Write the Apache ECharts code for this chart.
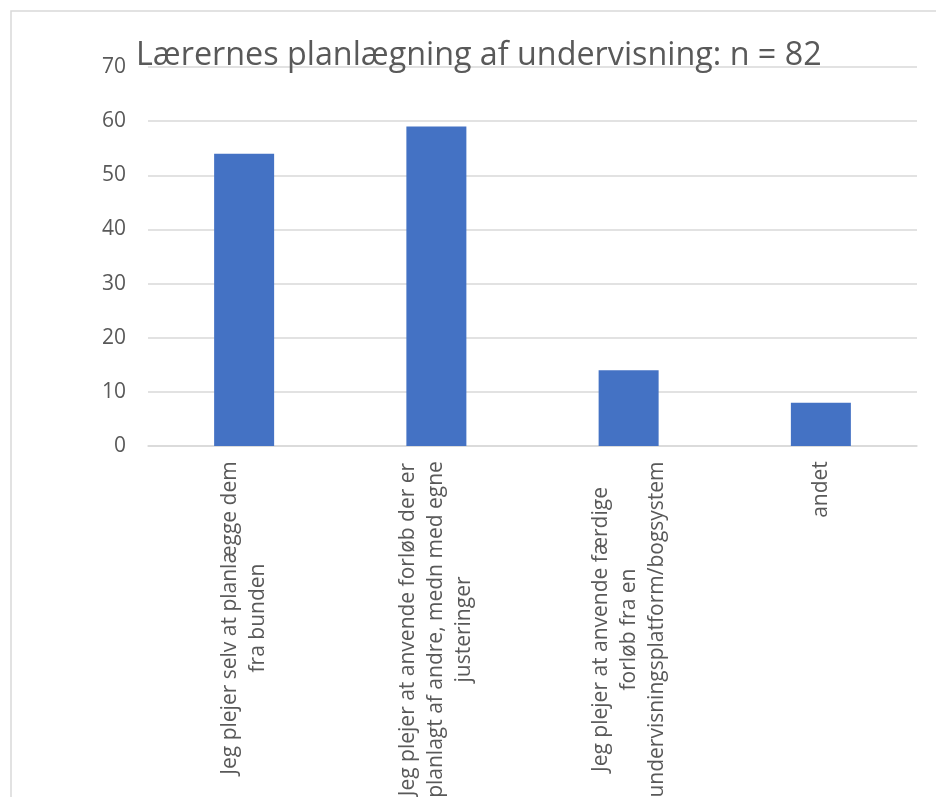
<!DOCTYPE html>
<html>
<head>
<meta charset="utf-8">
<script src="https://cdn.jsdelivr.net/npm/echarts@6/dist/echarts.min.js"></script>
<style>
  html, body { margin: 0; padding: 0; background: #fff; }
  #chart { width: 936px; height: 797px; }
</style>
</head>
<body>
<div id="chart"></div>
<script>
const titleText = 'Lærernes planlægning af undervisning: n = 82';
const categories = [
  ['Jeg plejer selv at planlægge dem', 'fra bunden'],
  ['Jeg plejer at anvende forløb der er', 'planlagt af andre, medn med egne', 'justeringer'],
  ['Jeg plejer at anvende færdige', 'forløb fra en', 'undervisningsplatform/bogsystem'],
  ['andet']
];
const counts = [54, 59, 14, 8];
const yTicks = { min: 0, max: 70, interval: 10 };

const FONT = '"Open Sans", "Noto Sans", sans-serif';
const LABEL_SIZE = 21;
const textColor = '#595959';

// Measure each wrapped label so its lines can be centred on one another.
const ctx = document.createElement('canvas').getContext('2d');
ctx.font = LABEL_SIZE + 'px ' + FONT;
const rich = {};
categories.forEach((lines, i) => {
  const w = Math.max(...lines.map(l => ctx.measureText(l).width));
  rich['c' + i] = { width: Math.ceil(w) + 2, align: 'center', fontSize: LABEL_SIZE,
                    fontFamily: FONT, color: textColor, lineHeight: 28 };
});

const chart = echarts.init(document.getElementById('chart'));
chart.setOption({
  animation: false,
  backgroundColor: '#fff',
  graphic: [{
    type: 'rect', silent: true, z: -1,
    shape: { x: 11, y: 11, width: 1200, height: 1200 },
    style: { fill: 'none', stroke: '#d9d9d9', lineWidth: 1.5 }
  }],
  title: {
    text: titleText,
    left: 131, top: 35,
    textStyle: { fontFamily: FONT, fontSize: 32.3, fontWeight: 'normal', color: textColor }
  },
  grid: { left: 148, right: 19, top: 67, bottom: 351, containLabel: false, outerBoundsMode: 'none' },
  xAxis: {
    type: 'category',
    data: categories.map((l, i) => i),
    axisLine: { show: true, lineStyle: { color: '#d9d9d9', width: 1.5 } },
    axisTick: { show: false },
    axisLabel: {
      rotate: 90, margin: 14, interval: 0,
      formatter: (v) => categories[v].map(l => '{c' + v + '|' + l + '}').join('\n'),
      rich: rich
    }
  },
  yAxis: {
    type: 'value',
    min: yTicks.min, max: yTicks.max, interval: yTicks.interval,
    axisLine: { show: false },
    axisTick: { show: false },
    splitLine: { lineStyle: { color: '#d9d9d9', width: 1.5 } },
    axisLabel: { margin: 22, fontFamily: FONT, fontSize: LABEL_SIZE, color: textColor }
  },
  series: [{
    type: 'bar',
    data: counts,
    barWidth: 60,
    itemStyle: { color: '#4472C4' }
  }]
});
</script>
</body>
</html>
